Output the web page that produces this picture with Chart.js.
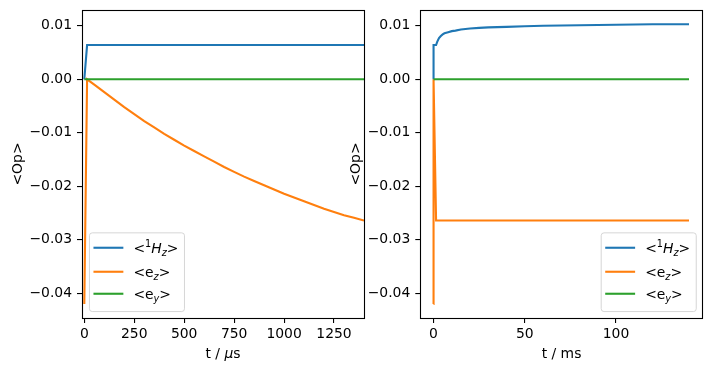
<!DOCTYPE html>
<html>
<head>
<meta charset="utf-8">
<script src="https://cdn.jsdelivr.net/npm/chart.js@4.4.0/dist/chart.umd.min.js"></script>
<style>
  html, body { margin: 0; padding: 0; background: #fff; }
  #wrap { position: relative; width: 711px; height: 374px; }
  #wrap canvas { position: absolute; left: 0; top: 0; }
</style>
</head>
<body>
<div id="wrap">
  <canvas id="left" width="711" height="374"></canvas>
  <canvas id="right" width="711" height="374"></canvas>
</div>
<script>
/* ---- data ---- */

// left panel: first 1.4 ms, time in µs
var tUs  = [0, 14, 50, 100, 150, 200, 250, 300, 350, 400, 450, 500, 550, 600, 650, 700,
            750, 800, 850, 900, 950, 1000, 1050, 1100, 1150, 1200, 1250, 1300, 1350, 1400];
var hzUs = [0, 0.0064, 0.0064, 0.0064, 0.0064, 0.0064, 0.0064, 0.0064, 0.0064, 0.0064,
            0.0064, 0.0064, 0.0064, 0.0064, 0.0064, 0.0064, 0.0064, 0.0064, 0.0064, 0.0064,
            0.0064, 0.0064, 0.0064, 0.0064, 0.0064, 0.0064, 0.0064, 0.0064, 0.0064, 0.0064];
var ezUs = [-0.042, 0, -0.0010, -0.0024, -0.0038, -0.0052, -0.0065, -0.0078, -0.0090, -0.0102,
            -0.0113, -0.0124, -0.0134, -0.0144, -0.0154, -0.0164, -0.0173, -0.0182, -0.0190, -0.0198,
            -0.0206, -0.0214, -0.0221, -0.0228, -0.0235, -0.0242, -0.0248, -0.0254, -0.0259, -0.0264];
var eyUs = [0, 0, 0, 0, 0, 0, 0, 0, 0, 0, 0, 0, 0, 0, 0, 0, 0, 0, 0, 0, 0, 0, 0, 0, 0, 0, 0, 0, 0, 0];

// right panel: whole run, time in ms
var tMs  = [0, 0.014, 1.4, 2, 3, 4, 5, 6, 8, 10, 12, 15, 20, 25, 30, 40, 50, 60, 80, 100, 120, 140];
var hzMs = [0, 0.0064, 0.0064, 0.0070, 0.0077, 0.0081, 0.0084, 0.0086, 0.0088, 0.0090, 0.0091,
            0.0093, 0.0095, 0.0096, 0.0097, 0.0098, 0.0099, 0.0100, 0.0101, 0.0102, 0.0103, 0.0103];
var ezMs = [-0.042, 0, -0.0264, -0.0264, -0.0264, -0.0264, -0.0264, -0.0264, -0.0264, -0.0264, -0.0264,
            -0.0264, -0.0264, -0.0264, -0.0264, -0.0264, -0.0264, -0.0264, -0.0264, -0.0264, -0.0264, -0.0264];
var eyMs = [0, 0, 0, 0, 0, 0, 0, 0, 0, 0, 0, 0, 0, 0, 0, 0, 0, 0, 0, 0, 0, 0];

var seriesNames = ['<$^1H_z$>', '<e$_z$>', '<e$_y$>'];
var seriesColors = ['#1f77b4', '#ff7f0e', '#2ca02c'];

var yTicks      = [0.01, 0.00, -0.01, -0.02, -0.03, -0.04];
var xTicksLeft  = [0, 250, 500, 750, 1000, 1250];
var xTicksRight = [0, 50, 100];

/* ---- helpers ---- */
var FS = 13.9;
var FAMILY = "'DejaVu Sans', sans-serif";
Chart.defaults.font.family = FAMILY;
Chart.defaults.font.size = FS;
Chart.defaults.color = '#000';

function pts(xs, ys) {
  return xs.map(function (x, i) { return { x: x, y: ys[i] }; });
}
function fmtY(v) {
  return v.toFixed(2).replace('-', '\u2212');
}

// tiny mathtext: $..$ makes letters italic, ^c / _c super/subscript
function isLetter(c) { return /\p{L}/u.test(c); }
function parseLabel(s) {
  var out = [], math = false;
  for (var i = 0; i < s.length; i++) {
    var c = s[i];
    if (c === '$') { math = !math; continue; }
    if (math && (c === '^' || c === '_')) {
      var d = s[++i];
      out.push({ t: d, shift: c === '^' ? 'sup' : 'sub', it: isLetter(d) });
      continue;
    }
    out.push({ t: c, it: math && isLetter(c) });
  }
  return out;
}
function partFont(p) {
  var size = p.shift ? FS * 0.7 : FS;
  return (p.it ? 'italic ' : '') + size + 'px ' + FAMILY;
}
function labelWidth(ctx, parts) {
  var w = 0;
  parts.forEach(function (p) { ctx.font = partFont(p); w += ctx.measureText(p.t).width; });
  return w;
}
function drawLabel(ctx, parts, x, y) {
  ctx.textBaseline = 'alphabetic';
  ctx.textAlign = 'left';
  ctx.fillStyle = '#000';
  var base = y + FS * 0.36;
  parts.forEach(function (p) {
    ctx.font = partFont(p);
    var yy = base;
    if (p.shift === 'sup') yy = base - FS * 0.38;
    if (p.shift === 'sub') yy = base + FS * 0.2;
    ctx.fillText(p.t, x, yy);
    x += ctx.measureText(p.t).width;
  });
}

/* axes frame on all four sides, above the lines like matplotlib spines */
var framePlugin = {
  id: 'frame',
  afterDatasetsDraw: function (chart) {
    var a = chart.chartArea, ctx = chart.ctx;
    ctx.save();
    ctx.strokeStyle = '#000';
    ctx.lineWidth = 1.1;
    ctx.strokeRect(Math.round(a.left) + 0.5, Math.round(a.top) + 0.5,
                   Math.round(a.right - a.left), Math.round(a.bottom - a.top));
    ctx.restore();
  }
};

/* x-axis title with mathtext (italic mu) */
var xTitlePlugin = {
  id: 'xTitle',
  afterDraw: function (chart, args, opts) {
    var ctx = chart.ctx, a = chart.chartArea;
    var parts = parseLabel(opts.text);
    var w = labelWidth(ctx, parts);
    ctx.save();
    drawLabel(ctx, parts, (a.left + a.right) / 2 - w / 2, 353);
    ctx.restore();
  }
};

/* matplotlib-style legend inside the axes */
var legendPlugin = {
  id: 'mplLegend',
  afterDraw: function (chart, args, opts) {
    var ctx = chart.ctx, a = chart.chartArea;
    var pad = 0.4 * FS, handle = 2 * FS, gap = 0.8 * FS, edge = 0.5 * FS;
    var labels = seriesNames.map(parseLabel);
    var tw = 0;
    labels.forEach(function (l) { tw = Math.max(tw, labelWidth(ctx, l)); });
    var w = pad * 2 + handle + gap + tw;
    var h = 78.7;
    var rows = [15.4, 39.4, 61.4];
    var x0 = opts.corner === 'lowerRight' ? a.right - edge - w : a.left + edge;
    var y0 = a.bottom - edge - h;
    ctx.save();
    ctx.beginPath();
    ctx.roundRect(x0 + 0.5, y0 + 0.5, w, h, 2.8);
    ctx.fillStyle = 'rgba(255,255,255,0.8)';
    ctx.fill();
    ctx.strokeStyle = 'rgba(204,204,204,0.8)';
    ctx.lineWidth = 1;
    ctx.stroke();
    labels.forEach(function (l, i) {
      var ry = y0 + rows[i];
      ctx.beginPath();
      ctx.strokeStyle = seriesColors[i];
      ctx.lineWidth = 2.1;
      ctx.lineCap = 'square';
      ctx.moveTo(x0 + pad, ry);
      ctx.lineTo(x0 + pad + handle, ry);
      ctx.stroke();
      drawLabel(ctx, l, x0 + pad + handle + gap, ry);
    });
    ctx.restore();
  }
};

function makePanel(id, cfg) {
  var sets = [cfg.hz, cfg.ez, cfg.ey].map(function (ys, i) {
    return {
      label: seriesNames[i],
      data: pts(cfg.t, ys),
      showLine: true,
      borderColor: seriesColors[i],
      backgroundColor: seriesColors[i],
      borderWidth: 2.1,
      pointRadius: 0,
      tension: 0,
      clip: 0,
      order: 3 - i
    };
  });
  return new Chart(document.getElementById(id), {
    type: 'scatter',
    data: { datasets: sets },
    options: {
      responsive: false,
      devicePixelRatio: 1,
      animation: false,
      events: [],
      layout: { autoPadding: false, padding: { left: cfg.padLeft, right: cfg.padRight, top: 10, bottom: 0 } },
      plugins: {
        legend: { display: false },
        tooltip: { enabled: false },
        mplLegend: { corner: cfg.corner },
        xTitle: { text: cfg.xTitle }
      },
      scales: {
        x: {
          type: 'linear',
          min: cfg.xMin, max: cfg.xMax,
          afterBuildTicks: function (s) { s.ticks = cfg.xTicks.map(function (v) { return { value: v }; }); },
          afterFit: function (s) { s.height = 56; s.paddingLeft = 0; s.paddingRight = 0; },
          grid: { drawOnChartArea: false, drawTicks: true, tickLength: 5, color: '#000', lineWidth: 1.1 },
          border: { display: false },
          ticks: { autoSkip: false, maxRotation: 0, padding: 3, color: '#000',
                   callback: function (v) { return String(v); } }
        },
        y: {
          type: 'linear',
          min: -0.04462, max: 0.01295,
          afterBuildTicks: function (s) { s.ticks = yTicks.map(function (v) { return { value: v }; }); },
          afterFit: function (s) { s.width = cfg.yWidth; s.paddingTop = 0; s.paddingBottom = 0; },
          grid: { drawOnChartArea: false, drawTicks: true, tickLength: 5, color: '#000', lineWidth: 1.1 },
          border: { display: false },
          ticks: { padding: 5, color: '#000', callback: fmtY },
          title: { display: true, text: '<Op>', color: '#000', padding: { top: cfg.yTitlePad, bottom: 0 } }
        }
      }
    },
    plugins: [framePlugin, legendPlugin, xTitlePlugin]
  });
}

makePanel('left', {
  t: tUs, hz: hzUs, ez: ezUs, ey: eyUs,
  xMin: -11.5, xMax: 1400, xTicks: xTicksLeft, xTitle: 't / $\u03bc$s',
  padLeft: 0, padRight: 347, yWidth: 82, yTitlePad: 10.2, corner: 'lowerLeft'
});
makePanel('right', {
  t: tMs, hz: hzMs, ez: ezMs, ey: eyMs,
  xMin: -7.25, xMax: 147.5, xTicks: xTicksRight, xTitle: 't / ms',
  padLeft: 340, padRight: 8.3, yWidth: 80.3, yTitlePad: 7.7, corner: 'lowerRight'
});
</script>
</body>
</html>
